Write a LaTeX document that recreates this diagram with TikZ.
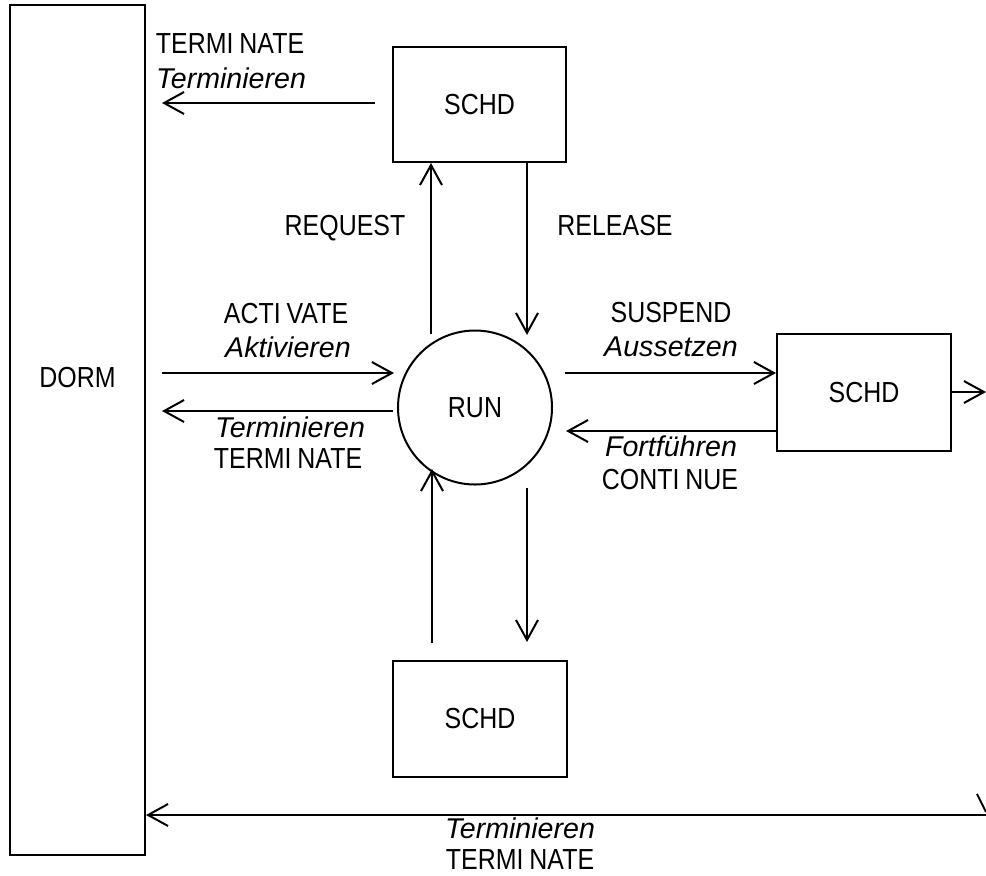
\documentclass[tikz,border=0pt]{standalone}
\usepackage{fontspec}
\setmainfont{Liberation Sans}
\newfontfamily\condfont[FakeStretch=0.86]{Liberation Sans}
\usetikzlibrary{arrows.meta, positioning}

\tikzset{
    box/.style={draw, rectangle, line width=1pt, font=\condfont\fontsize{14.5}{17}\selectfont},
    lbl/.style={anchor=base, inner sep=0pt, font=\condfont\fontsize{14.5}{17}\selectfont},
    itlbl/.style={anchor=base, inner sep=0pt, font=\itshape\fontsize{14.3}{17}\selectfont}
}

\begin{document}
\begin{tikzpicture}[x=0.5pt, y=-0.5pt, line width=1pt, >={Straight Barb[length=10pt, width=11pt]}]
\useasboundingbox (0,0) rectangle (986,875);

% states
\node[box, minimum width=67.5pt, minimum height=425pt, label={[yshift=26pt, font=\condfont\fontsize{14.5}{17}\selectfont]center:DORM}] (dorm) at (77.5,430) {};
\node[box, circle, minimum size=77pt, inner sep=0pt] (run) at (475,407.5) {RUN};
\node[box, minimum width=86.5pt, minimum height=57.5pt] (schdT) at (479.5,104.5) {SCHD};
\node[box, minimum width=87pt, minimum height=58.5pt] (schdR) at (864,392.5) {SCHD};
\node[box, minimum width=87pt, minimum height=58pt] (schdB) at (480,719) {SCHD};

% free ends
\coordinate (termT) at (375,103);
\coordinate (termTend) at (162,103);
\coordinate (req) at (431,334);
\coordinate (rel) at (527,335);
\coordinate (actA) at (162,373);
\coordinate (actB) at (394,373);
\coordinate (termA) at (393,411);
\coordinate (termB) at (162,411);
\coordinate (suspA) at (565,373);
\coordinate (contB) at (566,431);
\coordinate (outR) at (986,392);
\coordinate (upA) at (432,643);
\coordinate (upB) at (432,469);
\coordinate (dnA) at (527,488);
\coordinate (dnB) at (527,642);
\coordinate (termC) at (986,815);
\coordinate (termCend) at (146,815);
\coordinate (stubA) at (977,794);
\coordinate (stubB) at (986,812);

% connectors
\draw[->] (termT) -- (termTend);
\draw[->] (req) -- (schdT.south -| req);
\draw[->] (schdT.south -| rel) -- (rel);
\draw[->] (actA) -- (actB);
\draw[->] (termA) -- (termB);
\draw[->] (suspA) -- (suspA -| schdR.west);
\draw[->] (schdR.west |- contB) -- (contB);
\draw[->] (schdR.east |- outR) -- (outR);
\draw[->] (upA) -- (upB);
\draw[->] (dnA) -- (dnB);
\draw[->] (termC) -- (termCend);
\draw (stubA) -- (stubB);

% labels
\node[lbl] (l1) at (230,53) {TERMI\kern3pt NATE};
\node[itlbl] (l2) at (231,88) {Terminieren};
\node[lbl] (l3) at (345,235) {REQUEST};
\node[lbl] (l4) at (615,235) {RELEASE};
\node[lbl] (l5) at (286,323) {ACTI\kern3pt VATE};
\node[itlbl] (l6) at (288,357) {Aktivieren};
\node[itlbl] (l7) at (290,437) {Terminieren};
\node[lbl] (l8) at (288,468) {TERMI\kern3pt NATE};
\node[lbl] (l9) at (671,322) {SUSPEND};
\node[itlbl] (l10) at (671,356) {Aussetzen};
\node[itlbl] (l11) at (671,456) {Fortführen};
\node[lbl] (l12) at (670,489) {CONTI\kern3pt NUE};
\node[itlbl] (l13) at (520,838) {Terminieren};
\node[lbl] (l14) at (520,869) {TERMI\kern3pt NATE};
\end{tikzpicture}
\end{document}
